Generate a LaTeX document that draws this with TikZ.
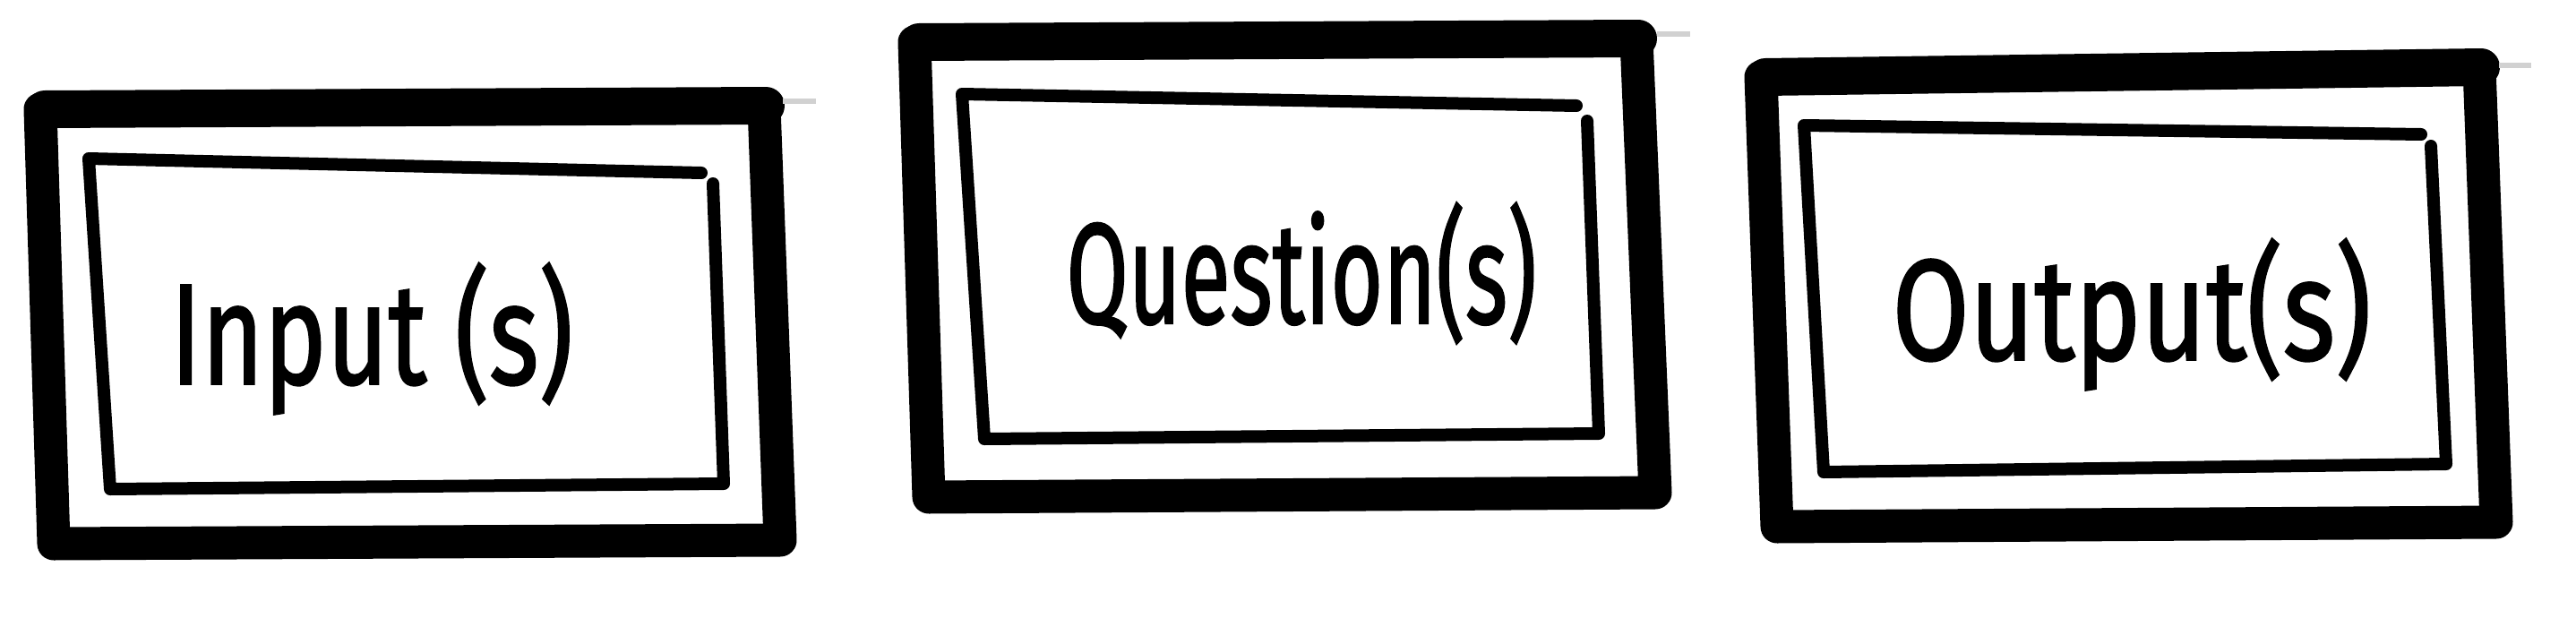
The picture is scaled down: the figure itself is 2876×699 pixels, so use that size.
\documentclass[tikz,border=0pt]{standalone}
\usepackage{fontspec}
\setmainfont{Fira Sans}
\newfontfamily\handfont{Fira Sans}[FakeBold=1.5]
\begin{document}
\begin{tikzpicture}[x=1pt,y=-1pt,
  outerframe/.style={line width=37pt, line join=round, line cap=round},
  topedge/.style={line width=42pt, line cap=round},
  innerframe/.style={line width=14pt, line join=round, line cap=round},
  lbl/.style={font=\fontsize{160}{170}\handfont, inner sep=0pt},
  hair/.style={draw=black!18, line width=6pt}]
\useasboundingbox (0,0) rectangle (2876,699);
% Box 1
\draw[outerframe] (45,122) -- (853,119) -- (871,603) -- (60,607) -- cycle;
\draw[topedge] (50,122) -- (855,118);
\draw[hair] (874,113) -- (911,113);
\draw[innerframe] (796,205) -- (808,540) -- (123,546) -- (99,177) -- (783,193);
\node[lbl] (input) at (415,378) {\scalebox{0.74}[1]{Input (s)}};
% Box 2
\draw[outerframe] (1021,47) -- (1827,44) -- (1848,550) -- (1037,555) -- cycle;
\draw[topedge] (1026,47) -- (1829,43);
\draw[hair] (1850,38) -- (1887,38);
\draw[innerframe] (1772,135) -- (1785,484) -- (1099,490) -- (1074,105) -- (1760,118);
\node[lbl] (question) at (1453,305) {\scalebox{0.63}[1]{Question(s)}};
% Box 3
\draw[outerframe] (1966,86) -- (2768,76) -- (2787,583) -- (1984,588) -- cycle;
\draw[topedge] (1971,86) -- (2770,75);
\draw[hair] (2790,73) -- (2826,73);
\draw[innerframe] (2714,163) -- (2731,518) -- (2036,527) -- (2014,140) -- (2703,150);
\node[lbl] (output) at (2380,351) {\scalebox{0.78}[1]{Output(s)}};
\end{tikzpicture}
\end{document}
